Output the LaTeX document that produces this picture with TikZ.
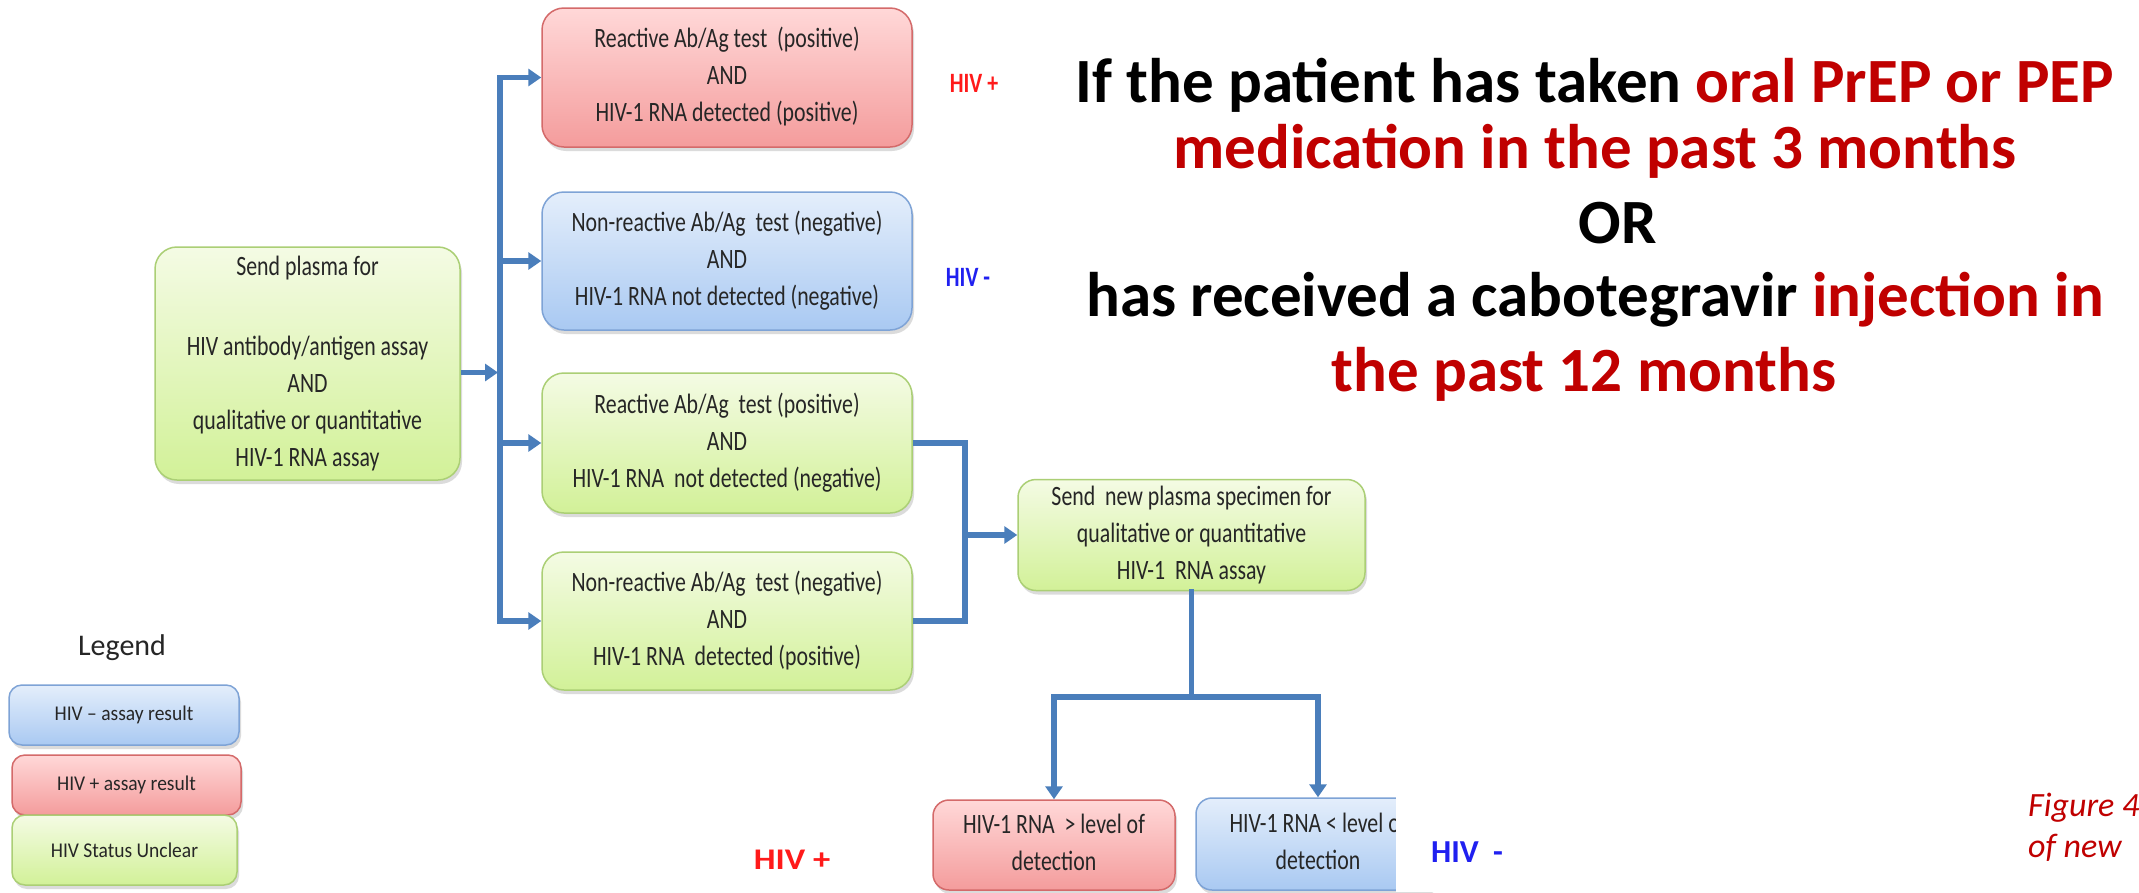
\documentclass[tikz,border=0pt]{standalone}
\usepackage{fontspec}
\setmainfont{Carlito}
\usepackage{graphicx}
\usetikzlibrary{arrows.meta,shadows,calc}
\definecolor{conncol}{HTML}{4A7EBB}
\definecolor{redtop}{HTML}{FFD8D8}
\definecolor{redbot}{HTML}{F49C9C}
\definecolor{redline}{HTML}{D46A6A}
\definecolor{bluetop}{HTML}{E4EEFB}
\definecolor{bluebot}{HTML}{A9C9F2}
\definecolor{blueline}{HTML}{7EA3D6}
\definecolor{greentop}{HTML}{F4FBE4}
\definecolor{greenbot}{HTML}{D2F198}
\definecolor{greenline}{HTML}{ABCF75}
\definecolor{darkred}{HTML}{C00000}
\definecolor{hivred}{HTML}{FF1A1A}
\definecolor{hivblue}{HTML}{2020F0}
\newcommand\bt[1]{\scalebox{0.78}[1]{\begin{tabular}{@{}c@{}}#1\end{tabular}}}
\newcommand\lt[1]{\scalebox{0.93}[1]{#1}}
\tikzset{
  boxbase/.style={rounded corners=22pt, line width=1.5pt,
    drop shadow={opacity=0.28,shadow xshift=2pt,shadow yshift=-4pt},
    font=\fontsize{28}{37}\selectfont, text=black!85, inner sep=0pt},
  redbox/.style={boxbase, draw=redline, top color=redtop, bottom color=redbot},
  bluebox/.style={boxbase, draw=blueline, top color=bluetop, bottom color=bluebot},
  greenbox/.style={boxbase, draw=greenline, top color=greentop, bottom color=greenbot},
  legbox/.style={rounded corners=13pt, font=\fontsize{21}{25}\selectfont},
  conn/.style={line width=5.5pt, draw=conncol, -{Triangle[length=13pt,width=17pt]}},
  connplain/.style={line width=5.5pt, draw=conncol, line cap=rect},
  hivlab/.style={font=\bfseries\fontsize{28}{30}\selectfont},
  bigtxt/.style={font=\bfseries\fontsize{63}{74}\selectfont, anchor=base, inner sep=0pt},
}
\begin{document}
\begin{tikzpicture}[x=1pt,y=-1pt]
\useasboundingbox (0,0) rectangle (2139,892);
\begin{scope}
\clip (0,0) rectangle (2139,892);
\fill[white] (0,0) rectangle (2139,892);

% main flow boxes
\node[greenbox, minimum width=305pt, minimum height=233pt] (main) at (307.5,363.5)
  {\bt{Send plasma for\\[43pt]HIV antibody/antigen assay\\AND\\qualitative or quantitative\\HIV-1 RNA assay}};
\node[redbox, minimum width=370pt, minimum height=139pt] (r1) at (727,77.5)
  {\bt{Reactive Ab/Ag test\ \ (positive)\\AND\\HIV-1 RNA detected (positive)}};
\node[bluebox, minimum width=370pt, minimum height=138pt] (b2) at (727,261)
  {\bt{Non-reactive Ab/Ag\ \ test (negative)\\AND\\HIV-1 RNA not detected (negative)}};
\node[greenbox, minimum width=370pt, minimum height=140pt] (g3) at (727,443)
  {\bt{Reactive Ab/Ag\ \ test (positive)\\AND\\HIV-1 RNA\ \ not detected (negative)}};
\node[greenbox, minimum width=370pt, minimum height=138pt] (g4) at (727,621)
  {\bt{Non-reactive Ab/Ag\ \ test (negative)\\AND\\HIV-1 RNA\ \ detected (positive)}};
\node[greenbox, rounded corners=18pt, minimum width=347pt, minimum height=110pt] (new) at (1191.5,535)
  {\bt{Send\ \ new plasma specimen for\\qualitative or quantitative\\HIV-1\ \ RNA assay}};
\node[redbox, rounded corners=16pt, minimum width=242pt, minimum height=90pt] (br) at (1054,845)
  {\bt{HIV-1 RNA\ \ > level of\\detection}};
\node[bluebox, rounded corners=16pt, minimum width=244pt, minimum height=92pt] (bb) at (1318,844)
  {\bt{HIV-1 RNA < level of\\detection}};
\fill[white] (1396,760) rectangle (1700,892);

% connectors
\coordinate (vx) at (500,0);
\coordinate (jx) at (965,0);
\coordinate (hy) at (0,697);
\draw[connplain] (r1.west -| vx) -- (g4.west -| vx);
\draw[conn] ($(main.east)+(0,9)$) -- ($(main.east -| vx)+(-2,9)$);
\draw[conn] (r1.west -| vx) -- (r1.west);
\draw[conn] (b2.west -| vx) -- (b2.west);
\draw[conn] (g3.west -| vx) -- (g3.west);
\draw[conn] (g4.west -| vx) -- (g4.west);
\draw[connplain, line cap=butt] (g3.east) -- (g3.east -| jx) -- (g4.east -| jx) -- (g4.east);
\draw[conn] (new.west -| jx) -- (new.west);
\draw[connplain] (new.south) -- (new.south |- hy);
\draw[connplain] (br.north |- hy) -- (bb.north |- hy);
\draw[conn] (br.north |- hy) -- (br.north);
\draw[conn] (bb.north |- hy) -- (bb.north);

% result labels
\node[hivlab, text=hivred] (lp1) at (974,83) {\scalebox{0.78}[1]{HIV +}};
\node[hivlab, text=hivblue] (lm1) at (968,277) {\scalebox{0.78}[1]{HIV -}};
\node[hivlab, text=hivred, font=\bfseries\fontsize{30}{32}\selectfont] (lp2) at (792,860) {\scalebox{1.15}[1]{HIV\ +}};
\node[hivlab, text=hivblue, font=\bfseries\fontsize{32}{34}\selectfont] (lm2) at (1467,852) {HIV\ \ -};

% legend
\node[font=\fontsize{30}{34}\selectfont, text=black!85] (legt) at (122,648) {Legend};
\node[legbox, bluebox, rounded corners=13pt, font=\fontsize{21}{25}\selectfont, minimum width=230pt, minimum height=60pt] (lb) at (124,715) {\lt{HIV – assay result}};
\node[legbox, redbox, rounded corners=13pt, font=\fontsize{21}{25}\selectfont, minimum width=229pt, minimum height=60pt] (lr) at (126.5,785) {\lt{HIV + assay result}};
\node[legbox, greenbox, rounded corners=13pt, font=\fontsize{21}{25}\selectfont, minimum width=225pt, minimum height=70pt] (lg) at (124.5,850) {\lt{HIV Status Unclear}};

% big text
\node[bigtxt] (t1) at (1595,102) {If the patient has taken \textcolor{darkred}{oral PrEP or PEP}};
\node[bigtxt, text=darkred] (t2) at (1595,168) {medication in the past 3 months};
\node[bigtxt] (t3) at (1618,243) {OR};
\node[bigtxt] (t4) at (1595,316) {has received a cabotegravir \textcolor{darkred}{injection in}};
\node[bigtxt, text=darkred] (t5) at (1584,391) {the past 12 months};

% figure caption fragment
\node[anchor=base west, inner sep=0pt, text=darkred, font=\itshape\fontsize{34}{41}\selectfont] (f1) at (2028,816) {Figure 4};
\node[anchor=base west, inner sep=0pt, text=darkred, font=\itshape\fontsize{34}{41}\selectfont] (f2) at (2028,857) {of new};
\end{scope}
\end{tikzpicture}
\end{document}
